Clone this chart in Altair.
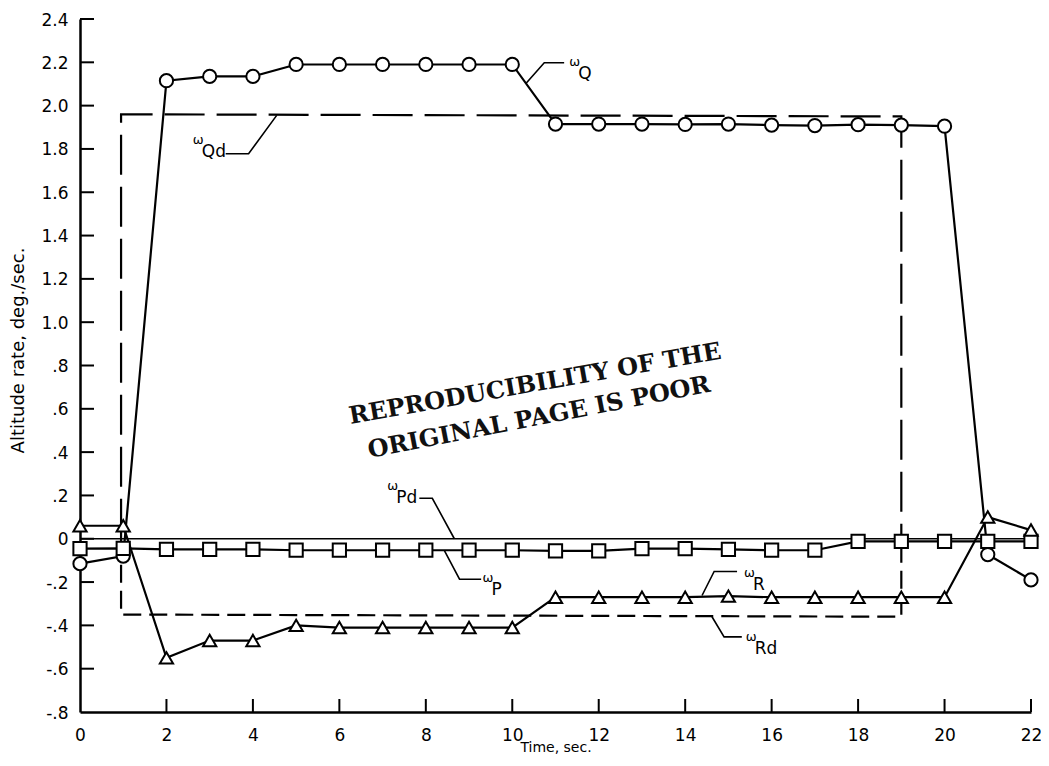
import altair as alt
import pandas as pd

# ---------------- data ----------------
time = list(range(23))
w_q = [-0.115, -0.08, 2.115, 2.135, 2.135, 2.19, 2.19, 2.19, 2.19, 2.19, 2.19,
       1.915, 1.915, 1.915, 1.913, 1.915, 1.91, 1.908, 1.912, 1.91, 1.905, -0.073, -0.19]
w_p = [-0.046, -0.044, -0.049, -0.049, -0.049, -0.053, -0.053, -0.053, -0.053, -0.053, -0.053,
       -0.056, -0.056, -0.046, -0.046, -0.049, -0.053, -0.053, -0.012, -0.012, -0.012, -0.012, -0.012]
w_r = [0.06, 0.06, -0.55, -0.47, -0.47, -0.40, -0.41, -0.41, -0.41, -0.41, -0.41,
       -0.27, -0.27, -0.27, -0.27, -0.265, -0.27, -0.27, -0.27, -0.27, -0.27, 0.10, 0.04]

# commanded (dashed) step profiles
qd_t = [0.95, 0.95, 19.0, 19.0]
qd_v = [0.0, 1.96, 1.95, 0.0]
rd_t = [0.95, 0.95, 19.0, 19.0]
rd_v = [0.0, -0.35, -0.36, 0.0]
pd_t = [0.0, 22.0]
pd_v = [0.0, 0.0]

# axis ticks
x_tick_values = [0, 2, 4, 6, 8, 10, 12, 14, 16, 18, 20, 22]
x_tick_labels = ["0", "2", "4", "6", "8", "10", "12", "14", "16", "18", "20", "22"]
y_tick_values = [-0.8, -0.6, -0.4, -0.2, 0.0, 0.2, 0.4, 0.6, 0.8, 1.0, 1.2,
                 1.4, 1.6, 1.8, 2.0, 2.2, 2.4]
y_tick_labels = ["-.8", "-.6", "-.4", "-.2", "0", ".2", ".4", ".6", ".8", "1.0", "1.2",
                 "1.4", "1.6", "1.8", "2.0", "2.2", "2.4"]

# curve labels (omega + subscript) and their leader lines
label_names = ["Q", "Qd", "Pd", "P", "R", "Rd"]
label_x = [11.32, 2.61, 7.11, 9.31, 15.36, 15.40]
label_y = [2.20, 1.842, 0.242, -0.183, -0.16, -0.453]

leader_id = ["Q"] * 3 + ["Qd"] * 3 + ["Pd"] * 3 + ["P"] * 3 + ["R"] * 3 + ["Rd"] * 3
leader_x = [11.20, 10.74, 10.32,
            3.37, 3.90, 4.55,
            7.85, 8.15, 8.66,
            9.28, 8.78, 8.43,
            15.20, 14.67, 14.39,
            15.31, 14.90, 14.62]
leader_y = [2.198, 2.198, 2.103,
            1.778, 1.778, 1.955,
            0.187, 0.187, 0.0,
            -0.187, -0.187, -0.055,
            -0.151, -0.151, -0.262,
            -0.453, -0.453, -0.36]

stamp_lines = ["REPRODUCIBILITY OF THE", "ORIGINAL PAGE IS POOR"]
stamp_x = [10.53, 10.62]
stamp_y = [0.713, 0.558]

# ---------------- tables ----------------
series_df = pd.concat([
    pd.DataFrame({"t": time, "v": w_q, "s": "q"}),
    pd.DataFrame({"t": time, "v": w_p, "s": "p"}),
    pd.DataFrame({"t": time, "v": w_r, "s": "r"}),
])
qd_df = pd.DataFrame({"t": qd_t, "v": qd_v, "i": range(len(qd_t))})
rd_df = pd.DataFrame({"t": rd_t, "v": rd_v, "i": range(len(rd_t))})
pd_df = pd.DataFrame({"t": pd_t, "v": pd_v})
lab_df = pd.DataFrame({"t": label_x, "v": label_y, "sub": label_names})
lead_df = pd.DataFrame({"t": leader_x, "v": leader_y, "g": leader_id,
                        "i": list(range(len(leader_x)))})
stamp_df = pd.DataFrame({"t": stamp_x, "v": stamp_y, "txt": stamp_lines})
xt_df = pd.DataFrame({"t": [v for v in x_tick_values if v != 0]})
yt_df = pd.DataFrame({"v": [v for v in y_tick_values if v != -0.8]})

W, H = 951, 693
xs = alt.Scale(domain=[0, 22], nice=False, zero=False)
ys = alt.Scale(domain=[-0.8, 2.4], nice=False, zero=False)

y_label_expr = ("[" + ",".join("'%s'" % l for l in y_tick_labels) + "][indexof(["
                + ",".join(str(round(v * 10)) for v in y_tick_values)
                + "], round(datum.value*10))]")
x_label_expr = ("[" + ",".join("'%s'" % l for l in x_tick_labels) + "][indexof(["
                + ",".join(str(v) for v in x_tick_values) + "], datum.value)]")

x_axis = alt.Axis(values=x_tick_values, labelExpr=x_label_expr, tickSize=0, labelPadding=15,
                  labelFontSize=17, labelFont="DejaVu Sans", labelColor="black",
                  labelFlush=False, labelOverlap=False,
                  domainColor="black", domainWidth=2.5, grid=False,
                  title="Time, sec.", titleFont="DejaVu Sans", titleFontSize=14,
                  titleFontWeight="normal", titleColor="black",
                  titleY=35, titleBaseline="middle")
y_axis = alt.Axis(values=y_tick_values, labelExpr=y_label_expr, tickSize=0, labelPadding=12,
                  labelFontSize=17, labelFont="DejaVu Sans", labelColor="black",
                  labelFlush=False, labelOverlap=False, labelOffset=1,
                  domainColor="black", domainWidth=2.5, grid=False,
                  title="Altitude rate, deg./sec.", titleFont="DejaVu Sans", titleFontSize=18,
                  titleFontWeight="normal", titleColor="black",
                  titleAngle=270, titleX=-62, titleY=331, titleAlign="center",
                  titleBaseline="middle")

X = alt.X("t:Q", scale=xs, axis=x_axis)
Y = alt.Y("v:Q", scale=ys, axis=y_axis)

# zero reference (omega Pd)
pd_line = alt.Chart(pd_df).mark_line(color="black", strokeWidth=1.6).encode(x=X, y=Y)

qd_line = alt.Chart(qd_df).mark_line(color="black", strokeWidth=2.2, strokeDash=[40, 12]).encode(
    x=X, y=Y, order="i:Q")
rd_line = alt.Chart(rd_df).mark_line(color="black", strokeWidth=2.2, strokeDash=[18, 8]).encode(
    x=X, y=Y, order="i:Q")

lines = alt.Chart(series_df).mark_line(color="black", strokeWidth=2.2).encode(
    x=X, y=Y, detail="s:N")
points = alt.Chart(series_df).mark_point(filled=True, fill="white", stroke="black",
                                         strokeWidth=2, opacity=1).encode(
    x=X, y=Y,
    shape=alt.Shape("s:N", scale=alt.Scale(domain=["q", "p", "r"],
                                           range=["circle", "square", "triangle-up"]),
                    legend=None),
    size=alt.Size("s:N", scale=alt.Scale(domain=["q", "p", "r"], range=[175, 175, 190]),
                  legend=None),
)

leaders = alt.Chart(lead_df).mark_line(color="black", strokeWidth=1.6).encode(
    x=X, y=Y, detail="g:N", order="i:Q")

omega = alt.Chart(lab_df).mark_text(text="ω", align="left", baseline="middle",
                                    fontSize=13, font="DejaVu Sans", color="black").encode(
    x=X, y=Y)
subs = alt.Chart(lab_df).mark_text(align="left", baseline="middle", dx=9, dy=12,
                                   fontSize=17, font="DejaVu Sans", color="black").encode(
    x=X, y=Y, text="sub:N")

stamp1 = alt.Chart(stamp_df.iloc[[0]]).mark_text(align="center", baseline="middle", angle=350,
                                                 fontSize=24, font="DejaVu Serif",
                                                 fontWeight="bold", color="#111111").encode(
    x=X, y=Y, text="txt:N")
stamp2 = alt.Chart(stamp_df.iloc[[1]]).mark_text(align="center", baseline="middle", angle=349,
                                                 fontSize=24, font="DejaVu Serif",
                                                 fontWeight="bold", color="#111111").encode(
    x=X, y=Y, text="txt:N")

xticks = alt.Chart(xt_df).mark_rule(color="black", strokeWidth=2).encode(
    x=X, y=alt.value(H), y2=alt.value(H - 13))
yticks = alt.Chart(yt_df).mark_rule(color="black", strokeWidth=2).encode(
    y=Y, x=alt.value(0), x2=alt.value(14))

chart = alt.layer(
    pd_line, qd_line, rd_line, leaders, lines, points, omega, subs, stamp1, stamp2,
    xticks, yticks,
).properties(
    width=W, height=H,
    autosize=alt.AutoSizeParams(type="none"),
    padding={"left": 72, "top": 11, "right": 10, "bottom": 46},
    background="white",
).configure_view(stroke=None)

chart.save("out.html", embed_options={"renderer": "svg", "actions": False})
